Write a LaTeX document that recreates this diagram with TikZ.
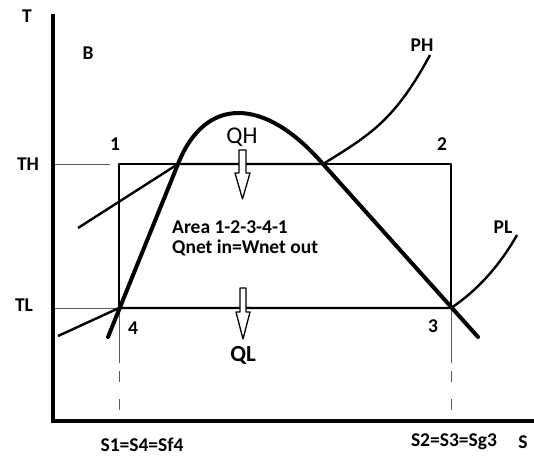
\documentclass[tikz,border=0pt]{standalone}
\usepackage{fontspec}
\setmainfont{Carlito}
\begin{document}
\begin{tikzpicture}[x=1pt, y=-1pt, line join=round,
  lbl/.style={font=\fontsize{19.5}{22}\selectfont\bfseries, inner sep=0pt},
  guide/.style={black!65, line width=1pt},
  heatarrow/.style={draw=black, fill=white, line width=1.3pt}]
  \useasboundingbox (0,0) rectangle (534,457);
  % state points of the cycle
  \coordinate (p1) at (119,164);
  \coordinate (p2) at (451,164);
  \coordinate (p3) at (451,308);
  \coordinate (p4) at (119,308);
  % thin guide lines to the axes
  \draw[guide] (55,164) -- (110,164);
  \draw[guide] (55,308) -- (p4);
  \draw[guide] (p4) -- (119,363);
  \draw[guide, dash pattern=on 11pt off 17pt, dash phase=20pt] (119,363) -- (119,421);
  \draw[guide] (p3) -- (451,363);
  \draw[guide, dash pattern=on 11pt off 17pt, dash phase=20pt] (451,363) -- (451,421);
  % axes
  \draw[line width=4.5pt, line join=miter] (53,14) -- (53,421) -- (534,421);
  % the cycle 1-2-3-4-1
  \draw[line width=2.4pt] (p1) rectangle (p3);
  % constant pressure lines
  \draw[line width=2.4pt] (78,228) -- (178,164) -- (323,164)
    .. controls (370,135) and (395,120) .. (430,55);
  \draw[line width=2.4pt] (58,336) -- (p4) -- (p3)
    .. controls (478,290) and (500,265) .. (517,235);
  % saturation dome
  \draw[line width=4pt, line cap=round] (108,337) -- (178,164)
    .. controls (205,96) and (264,96) .. (323,164) -- (478,337);
  % heat in and out
  \draw[heatarrow] (239,150) -- (246,150) -- (246,173) -- (250,173)
    -- (242.5,199) -- (235,173) -- (239,173) -- cycle;
  \draw[heatarrow] (240,288) -- (246,288) -- (246,312) -- (250,312)
    -- (243,339) -- (236,312) -- (240,312) -- cycle;
  % labels
  \node[lbl] (lT) at (27,16) {T};
  \node[lbl] (lB) at (88,53) {B};
  \node[lbl] (lTH) at (28,164) {TH};
  \node[lbl] (lTL) at (24,305) {TL};
  \node[lbl] (l1) at (115,144) {1};
  \node[lbl] (l2) at (442,144) {2};
  \node[lbl] (l3) at (433,326) {3};
  \node[lbl] (l4) at (133,328) {4};
  \node[lbl] (lPH) at (422,45) {PH};
  \node[lbl] (lPL) at (503,227) {PL};
  \node[font=\fontsize{24}{26}\selectfont, inner sep=0pt] (lQH) at (242,137) {QH};
  \node[lbl, font=\fontsize{23}{25}\selectfont\bfseries] (lQL) at (243,355) {QL};
  \node[lbl, anchor=west] (larea) at (172,227) {Area 1-2-3-4-1};
  \node[lbl, anchor=west] (lnet) at (172,248) {Qnet in=Wnet out};
  \node[lbl] (lS) at (523,442) {S};
  \node[lbl] (lS1) at (142,445) {S1=S4=Sf4};
  \node[lbl] (lS2) at (454,442) {S2=S3=Sg3};
\end{tikzpicture}
\end{document}
